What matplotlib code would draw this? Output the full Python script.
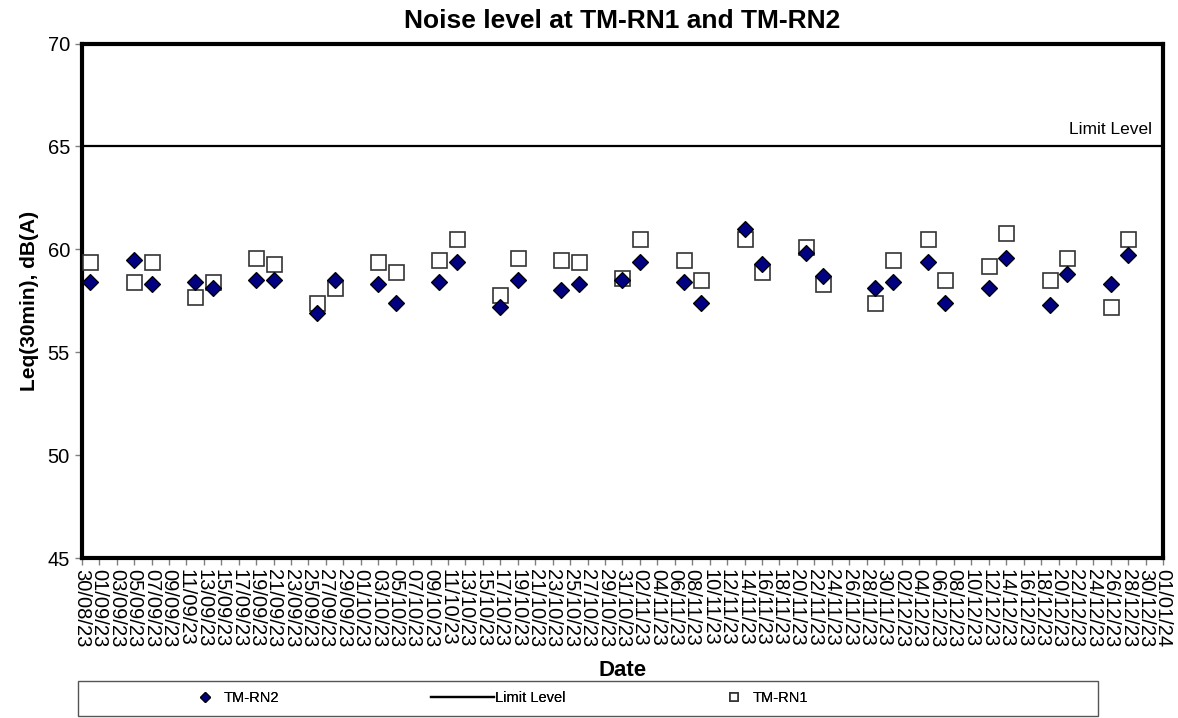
import numpy as np
import pandas as pd
import matplotlib
matplotlib.use("Agg")
import matplotlib.pyplot as plt
import matplotlib.dates as mdates
from matplotlib.patches import Rectangle

plt.rcParams['font.family'] = ['Liberation Sans', 'DejaVu Sans']

# dane pomiarowe
dates = ["31/08/23", "05/09/23", "07/09/23", "12/09/23", "14/09/23", "19/09/23",
         "21/09/23", "26/09/23", "28/09/23", "03/10/23", "05/10/23", "10/10/23",
         "12/10/23", "17/10/23", "19/10/23", "24/10/23", "26/10/23", "31/10/23",
         "02/11/23", "07/11/23", "09/11/23", "14/11/23", "16/11/23", "21/11/23",
         "23/11/23", "29/11/23", "01/12/23", "05/12/23", "07/12/23", "12/12/23",
         "14/12/23", "19/12/23", "21/12/23", "26/12/23", "28/12/23"]
rn2 = [58.4, 59.5, 58.3, 58.4, 58.1, 58.5, 58.5, 56.9, 58.5, 58.3, 57.4, 58.4,
       59.4, 57.2, 58.5, 58.0, 58.3, 58.5, 59.4, 58.4, 57.4, 61.0, 59.3, 59.8,
       58.7, 58.1, 58.4, 59.4, 57.4, 58.1, 59.6, 57.3, 58.8, 58.3, 59.7]
rn1 = [59.4, 58.4, 59.4, 57.7, 58.4, 59.6, 59.3, 57.4, 58.1, 59.4, 58.9, 59.5,
       60.5, 57.8, 59.6, 59.5, 59.4, 58.6, 60.5, 59.5, 58.5, 60.5, 58.9, 60.1,
       58.3, 57.4, 59.5, 60.5, 58.5, 59.2, 60.8, 58.5, 59.6, 57.2, 60.5]
limit = 65
start, end = "30/08/23", "01/01/24"

x = pd.to_datetime(dates, format="%d/%m/%y")
x0 = pd.to_datetime(start, format="%d/%m/%y")
x1 = pd.to_datetime(end, format="%d/%m/%y")

fig = plt.figure(figsize=(11.78, 7.18), dpi=100)
ax = fig.add_axes([0.0694, 0.2228, 0.918, 0.7166])

h1, = ax.plot(x, rn1, ls='none', marker='s', ms=10.8, mfc='white', mec='#333333',
              mew=1.2, zorder=3, label='TM-RN1')
h2, = ax.plot(x, rn2, ls='none', marker='D', ms=8.4, mfc='#000080', mec='black',
              mew=0.9, zorder=4, label='TM-RN2')
h3 = ax.axhline(limit, color='black', lw=1.6, zorder=2, label='Limit Level')
ax.text(0.99, limit + 0.45, 'Limit Level', transform=ax.get_yaxis_transform(),
        ha='right', va='bottom', fontsize=12.5)

ax.set_xlim(x0, x1)
ax.set_ylim(45, 70)
ax.set_yticks([45, 50, 55, 60, 65, 70])
ticks = pd.date_range(x0, x1, freq='2D')
ax.set_xticks(ticks)
ax.set_xticklabels([t.strftime('%d/%m/%y') for t in ticks], rotation=270)
ax.tick_params(axis='both', labelsize=14.5, color='#808080', length=5, width=1)
ax.tick_params(axis='x', pad=3)

for s in ax.spines.values():
    s.set_linewidth(3)
    s.set_color('black')

ax.set_title('Noise level at TM-RN1 and TM-RN2', fontsize=19, fontweight='bold', pad=11)
ax.set_ylabel('Leq(30min), dB(A)', fontsize=15, fontweight='bold', labelpad=6)
ax.set_xlabel('Date', fontsize=16, fontweight='bold', labelpad=9)

# legenda - ramka i trzy wpisy
fig.add_artist(Rectangle((0.066, 0.003), 0.866, 0.049, transform=fig.transFigure,
                         fill=False, edgecolor='#555555', lw=1))
wpisy = [(h2, 0.168, 1.0, 0.75), (h3, 0.366, 4.3, 0.1), (h1, 0.617, 1.0, 0.75)]
for h, xl, hl, tp in wpisy:
    lg = fig.legend(handles=[h], loc='center left', bbox_to_anchor=(xl, 0.028),
                    frameon=False, fontsize=10.5, borderpad=0, borderaxespad=0,
                    handlelength=hl, handletextpad=tp, markerscale=0.55)
    fig.add_artist(lg)

fig.savefig('out.png', dpi=100)
